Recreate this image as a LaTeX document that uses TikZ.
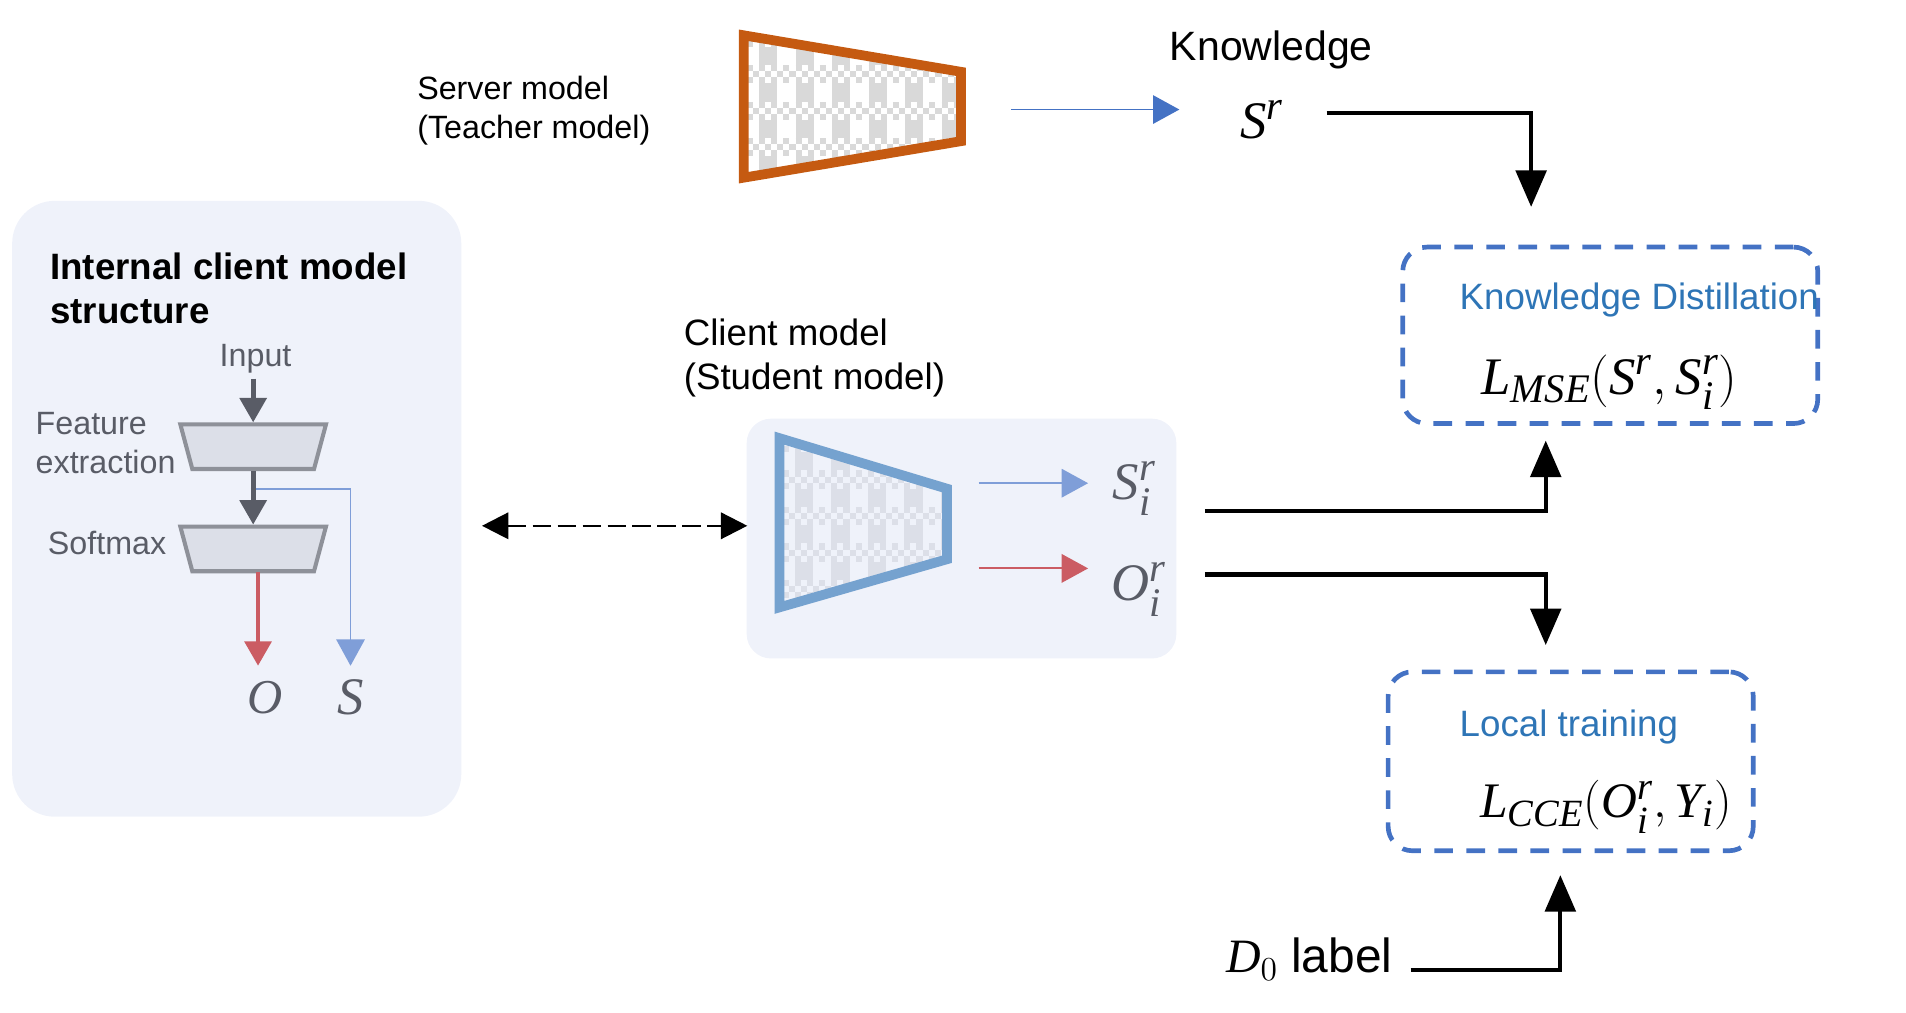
\documentclass[tikz,border=0pt]{standalone}
\usepackage{amsmath}
\usepackage{fix-cm}
\usepackage{fontspec}
\setmainfont{Liberation Sans}
\setmathrm{Liberation Serif}
\usepackage{tikz}
\usetikzlibrary{positioning,shapes.geometric,arrows.meta}
\definecolor{panelbg}{HTML}{EFF2FA}
\definecolor{serverline}{HTML}{C55A11}
\definecolor{clientline}{HTML}{75A2CF}
\definecolor{gridgrey}{HTML}{D9D9D9}
\definecolor{gridpale}{HTML}{DCDFE8}
\definecolor{darkslate}{HTML}{595C66}
\definecolor{blockline}{HTML}{8E9199}
\definecolor{softred}{HTML}{CB5C63}
\definecolor{softblue}{HTML}{7F9ED8}
\definecolor{boxblue}{HTML}{4472C4}
\definecolor{titleblue}{HTML}{2E75B6}
\DeclareMathSizes{26}{26}{20}{16}
\DeclareMathSizes{24.5}{24.5}{19}{15}
\newcommand{\vr}[1]{\mathit{#1}}
\tikzstyle{panel}=[fill=panelbg, inner sep=0pt]
\tikzstyle{loss_box}=[draw=boxblue, line width=2.3pt, dash pattern=on 9.2pt off 6.6pt, rounded corners=12pt, inner sep=0pt]
\tikzstyle{block}=[trapezium, trapezium angle=75, shape border rotate=180, fill=gridpale, draw=blockline, line width=2pt, text width=60pt, text height=22pt, text depth=0pt, inner sep=0pt]
\tikzstyle{thick_edge}=[-{Triangle[length=18pt,width=15pt]}, draw=black, line width=2.1pt]
\tikzstyle{thin_edge}=[-{Triangle[length=13pt,width=14pt]}, line width=0.9pt]
\tikzstyle{block_edge}=[-{Triangle[length=12pt,width=13pt]}, line width=2.4pt]
\tikzstyle{small_text}=[inner sep=0pt, font=\fontsize{15.9}{19.2}\selectfont]
\tikzstyle{mid_text}=[inner sep=0pt, align=left, font=\fontsize{18.1}{21.6}\selectfont]
\tikzstyle{math_text}=[inner sep=0pt, font=\fontsize{26}{30}\selectfont]
\newcommand{\modelgrid}[5]{%
  \foreach \k in {0,...,6} \fill[#4] ({#1+30*\k},{#3-30}) rectangle ({#1+15+30*\k},{#3+120});
  \foreach \k in {-1,0,...,4} {
    \fill[#5] ({#1-20},{#3+30*\k}) rectangle (#2,{#3+15+30*\k});
    \foreach \r/\ph in {0/0pt,1/3pt,2/0pt}
      \draw[#4, line width=3pt, dash pattern=on 3pt off 3pt, dash phase=\ph]
        ({#1-20},{#3+30*\k+2.5+5*\r}) -- (#2,{#3+30*\k+2.5+5*\r});
  }}
\begin{document}
\begin{tikzpicture}[x=0.6pt,y=-0.6pt]
        \useasboundingbox (0,0) rectangle (1566,831.5);
        % panels
        \node [panel, rounded corners=21pt, minimum width=221.4pt, minimum height=303.6pt] (inner_panel) at (194.5,418) {};
        \node [panel, rounded corners=12pt, minimum width=211.8pt, minimum height=118.2pt] (client_panel) at (790,442.5) {};
        % server model
        \begin{scope}
            \clip (611,29) -- (789.5,59) -- (789.5,116) -- (611,146) -- cycle;
            \fill[white] (600,20) rectangle (800,155);
            \modelgrid{623.6}{794}{53.5}{gridgrey}{white}
        \end{scope}
        \draw[serverline, line width=4.8pt] (611,29) -- (789.5,59) -- (789.5,116) -- (611,146) -- cycle;
        \coordinate (server_out) at (831,90);
        \node [math_text] (sr) at (1037,98) {$\vr{S}^{\vr{r}}$};
        \coordinate (sr_in) at (969,90);
        \draw[thin_edge, draw=boxblue] (server_out) -- (sr_in);
        \node [small_text, anchor=west, align=left] (server_label) at (342.5,91) {Server model\\(Teacher model)};
        \node [inner sep=0pt, font=\fontsize{20.2}{24}\selectfont] (knowledge) at (1044.5,41) {Knowledge};
        % client model
        \begin{scope}
            \clip (640.5,360) -- (778,401.5) -- (778,459.5) -- (640.5,499) -- cycle;
            \modelgrid{653}{790}{386.5}{gridpale}{panelbg}
        \end{scope}
        \draw[clientline, line width=4.8pt] (640.5,360) -- (778,401.5) -- (778,459.5) -- (640.5,499) -- cycle;
        \node [mid_text, anchor=west] (client_label) at (561.5,294) {Client model\\(Student model)};
        \node [math_text, text=darkslate] (si) at (932,401) {$\vr{S}_{\vr{i}}^{\vr{r}}$};
        \node [math_text, text=darkslate] (oi) at (936,484) {$\vr{O}_{\vr{i}}^{\vr{r}}$};
        \coordinate (si_start) at (804,397);
        \coordinate (si_end) at (894,397);
        \coordinate (oi_start) at (804,467);
        \coordinate (oi_end) at (894,467);
        \draw[thin_edge, draw=softblue] (si_start) -- (si_end);
        \draw[thin_edge, draw=softred] (oi_start) -- (oi_end);
        % internal structure
        \node [mid_text, anchor=west, font=\fontsize{18.1}{21.6}\selectfont\bfseries] (inner_title) at (41,237) {Internal client model\\structure};
        \node [small_text, text=darkslate] (input) at (210,295) {Input};
        \node [block] (feat) at (208,367) {};
        \node [block] (soft) at (208,451) {};
        \node [small_text, anchor=west, align=left, text=darkslate] (feat_label) at (29,364) {Feature\\extraction};
        \node [small_text, text=darkslate] (soft_label) at (88,446) {Softmax};
        \node [math_text, text=darkslate, font=\fontsize{24}{28}\selectfont] (o) at (218,573) {$\vr{O}$};
        \node [math_text, text=darkslate] (s) at (288,573) {$\vr{S}$};
        \coordinate (input_start) at (208,311);
        \coordinate (o_end) at (212,547);
        \coordinate (o_start) at (212,470);
        \coordinate (s_start) at (206,402);
        \coordinate (s_end) at (288,547);
        \draw[block_edge, draw=softred] (o_start) -- (o_end);
        \draw[thin_edge, draw=softblue] (s_start) -| (s_end);
        \draw[block_edge, draw=darkslate] (input_start) -- (feat.north);
        \draw[block_edge, draw=darkslate] (feat.south) -- (soft.north);
        % dashed link
        \coordinate (link_left) at (396,432);
        \coordinate (link_right) at (614,432);
        \draw[{Triangle[length=13pt,width=13pt]}-{Triangle[length=13pt,width=13pt]}, dash pattern=on 9.2pt off 3.1pt, line width=1.2pt] (link_left) -- (link_right);
        % loss boxes
        \node [loss_box, minimum width=204.6pt, minimum height=87pt] (kd_box) at (1323,275.5) {};
        \node [loss_box, minimum width=180pt, minimum height=88.2pt] (lt_box) at (1290.5,625.5) {};
        \node [mid_text, text=titleblue, anchor=west] (kd_title) at (1199,246.5) {Knowledge Distillation};
        \node [mid_text, text=titleblue, anchor=west] (lt_title) at (1199,597) {Local training};
        \node [math_text] (kd_loss) at (1322.5,314) {$\vr{L}_{\vr{MSE}}(\vr{S}^{\vr{r}},\vr{S}_{\vr{i}}^{\vr{r}})$};
        \node [inner sep=0pt, font=\fontsize{24.5}{30}\selectfont] (lt_loss) at (1319.5,663) {$\vr{L}_{\vr{CCE}}(\vr{O}_{\vr{i}}^{\vr{r}},\vr{Y}_{\vr{i}})$};
        \node [inner sep=0pt, anchor=west, font=\fontsize{23.6}{28}\selectfont] (d0) at (1007,788) {$\vr{D}_{0}$ label};
        % black arrows
        \coordinate (sr_out) at (1090,93);
        \coordinate (kd_top) at (1258,170);
        \coordinate (si_out) at (990,420);
        \coordinate (kd_bottom) at (1270,362);
        \coordinate (oi_out) at (990,472);
        \coordinate (lt_top) at (1270,530);
        \coordinate (d0_out) at (1159,797);
        \coordinate (lt_bottom) at (1282,719);
        \draw[thick_edge] (sr_out) -| (kd_top);
        \draw[thick_edge] (si_out) -| (kd_bottom);
        \draw[thick_edge] (oi_out) -| (lt_top);
        \draw[thick_edge] (d0_out) -| (lt_bottom);
    \end{tikzpicture}
\end{document}
